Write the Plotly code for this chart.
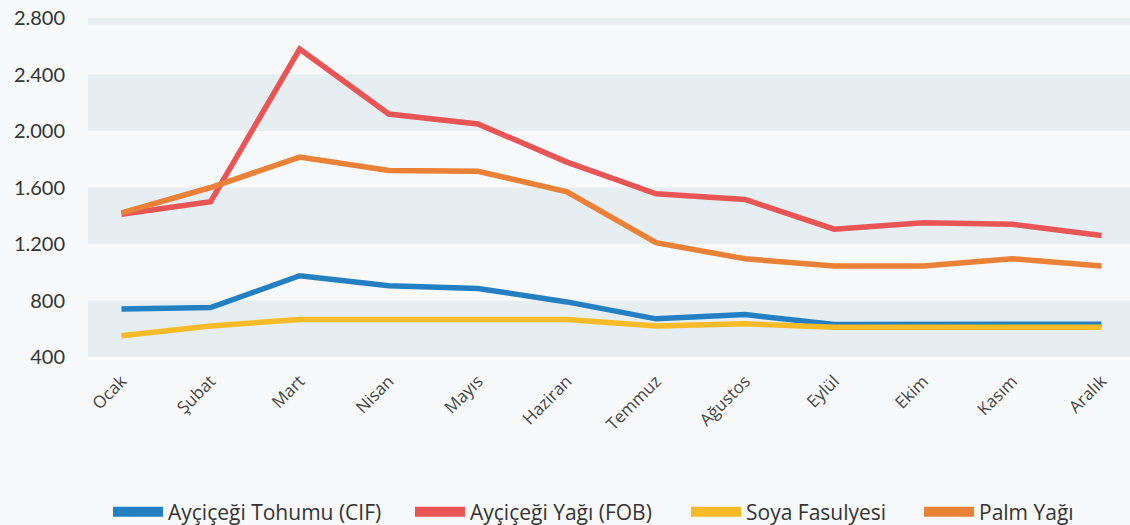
import plotly.graph_objects as go

months = ["Ocak", "Şubat", "Mart", "Nisan", "Mayıs", "Haziran", "Temmuz",
          "Ağustos", "Eylül", "Ekim", "Kasım", "Aralık"]
tohum_cif = [740, 750, 975, 905, 885, 790, 670, 700, 630, 630, 638, 632]
yag_fob = [1410, 1500, 2580, 2120, 2050, 1780, 1555, 1515, 1305, 1350, 1340, 1260]
soya = [550, 620, 665, 665, 665, 665, 620, 635, 610, 610, 610, 610]
palm = [1420, 1600, 1815, 1720, 1715, 1570, 1210, 1095, 1045, 1045, 1095, 1045]
y_ticks = [400, 800, 1200, 1600, 2000, 2400, 2800]
bands = [(400, 800), (1200, 1600), (2000, 2400), (2752, 2800)]

series = [
    ("Ayçiçeği Tohumu (CIF)", tohum_cif, "#2580C3"),
    ("Ayçiçeği Yağı (FOB)", yag_fob, "#E95455"),
    ("Soya Fasulyesi", soya, "#F8BB28"),
    ("Palm Yağı", palm, "#EB8037"),
]
legend_ids = ["legend", "legend2", "legend3", "legend4"]
legend_x = [108, 410, 686, 919]

fig = go.Figure()
xs = list(range(len(months)))
for name, vals, color in series:
    fig.add_trace(go.Scatter(
        x=xs, y=vals, name=name, mode="lines",
        line=dict(color=color, width=5.5),
        hoverinfo="skip", showlegend=False,
    ))
for (name, vals, color), lid in zip(series, legend_ids):
    fig.add_trace(go.Scatter(
        x=[None], y=[None], name=name, mode="lines",
        line=dict(color=color, width=10),
        hoverinfo="skip", showlegend=True, legend=lid,
    ))

shapes = []
for lo, hi in bands:
    shapes.append(dict(type="rect", xref="paper", yref="y", x0=0, x1=1,
                       y0=lo, y1=hi, fillcolor="#E7EEF1", line=dict(width=0),
                       layer="below"))

legend_common = dict(orientation="h", xref="container", yref="container",
                     xanchor="left", y=(525 - 512) / 525, yanchor="middle",
                     font=dict(family="Open Sans", size=21, color="#333333"),
                     itemwidth=50, bgcolor="rgba(0,0,0,0)", borderwidth=0)
legends = {}
for lid, lx in zip(legend_ids, legend_x):
    legends[lid] = dict(legend_common, x=lx / 1130)

fig.update_layout(
    width=1130, height=525,
    margin=dict(l=88, r=0, t=18, b=168),
    paper_bgcolor="#F8F9FB",
    plot_bgcolor="#F8F9FB",
    separators=",.",
    shapes=shapes,
    showlegend=True,
    font=dict(family="Open Sans", color="#333333"),
    xaxis=dict(
        range=[-0.376, 11.32], tickmode="array", tickvals=xs, ticktext=months,
        tickangle=-45, showgrid=False, zeroline=False, showline=False,
        ticks="", ticklabelstandoff=10,
        tickfont=dict(family="Open Sans", size=17, color="#444444"),
        fixedrange=True,
    ),
    yaxis=dict(
        range=[400, 2800], tickmode="array", tickvals=y_ticks,
        tickformat=",d", showgrid=False, zeroline=False, showline=False,
        ticks="", ticklabelstandoff=22,
        tickfont=dict(family="Lato", size=20, color="#333333"),
        fixedrange=True,
    ),
    **legends,
)

fig.write_html("out.html", config={"displayModeBar": False},
               post_script="document.body.style.margin='0';")
